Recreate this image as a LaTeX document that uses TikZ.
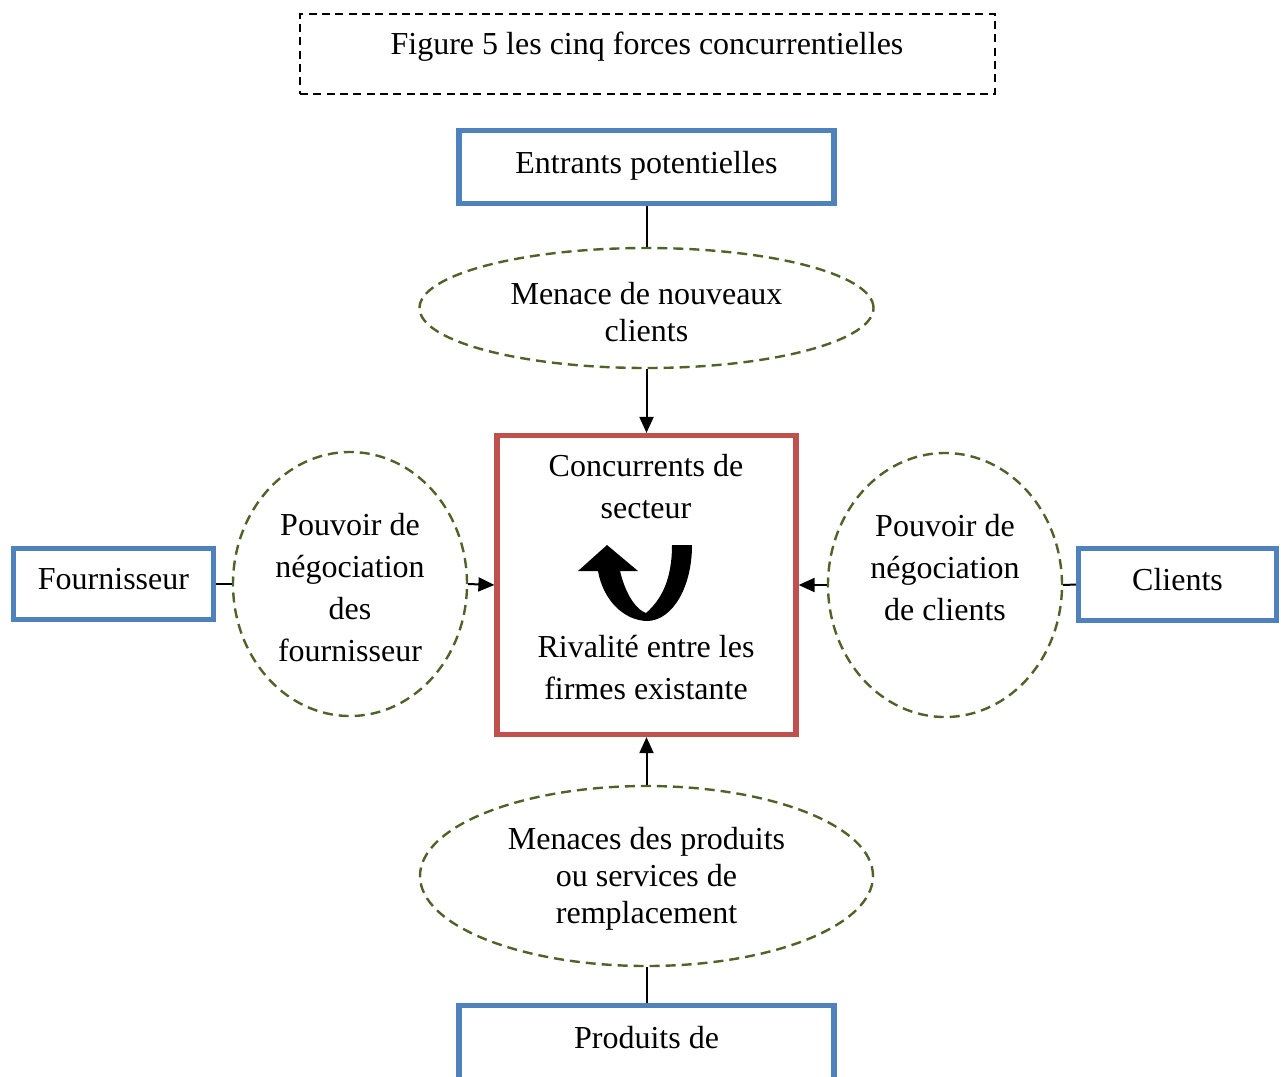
\documentclass[tikz,border=0pt]{standalone}
\usepackage{fontspec}
\setmainfont{Liberation Serif}
\usetikzlibrary{shapes.geometric,arrows.meta}
\definecolor{forceblue}{HTML}{4F81BD}
\definecolor{forcered}{HTML}{C0504D}
\definecolor{forceolive}{HTML}{4F6228}
\tikzset{
  txt/.style={font=\fontsize{24}{27.75}\selectfont, align=center, inner sep=0pt},
  txtwide/.style={font=\fontsize{24}{31.5}\selectfont, align=center, inner sep=0pt},
  titlebox/.style={draw=black, dashed, dash pattern=on 6pt off 4pt, line width=1.5pt, inner sep=0pt},
  forcebox/.style={draw=forceblue, line width=3.9pt, inner sep=0pt, fill=white},
  centrebox/.style={draw=forcered, line width=3.9pt, inner sep=0pt},
  menace/.style={ellipse, draw=forceolive, line width=1.8pt, dash pattern=on 7.5pt off 4.5pt, inner sep=0pt},
  link/.style={line width=1.5pt},
  push/.style={line width=1.5pt, -{Triangle[width=10.5pt,length=12pt]}},
}
\begin{document}
\begin{tikzpicture}[x=0.75pt,y=-0.75pt]
\useasboundingbox (0,0) rectangle (1281,1076);
\clip (0,0) rectangle (1281,1076);

% title
\node[titlebox, minimum width=521.25pt, minimum height=60pt] (titleframe) at (647.5,54) {};
\node[txt] (titletext) at (647,47) {Figure 5 les cinq forces concurrentielles};

% outer forces
\node[forcebox, minimum width=281.25pt, minimum height=54.75pt] (entrants) at (646.5,167) {};
\node[txt] (entrantstext) at (646.5,166) {Entrants potentielles};
\node[forcebox, minimum width=150pt, minimum height=53.25pt] (fourn) at (113.5,584) {};
\node[txt] (fourntext) at (113.5,579) {Fournisseur};
\node[forcebox, minimum width=148.5pt, minimum height=54pt] (clients) at (1177.5,584.5) {};
\node[txt] (clientstext) at (1177.5,580) {Clients};
\node[forcebox, minimum width=281.25pt, minimum height=60pt] (produits) at (646.5,1045.5) {};
\node[txt] (produitstext) at (646.5,1038) {Produits de};

% pressures
\node[menace, minimum width=340.5pt, minimum height=90pt] (nouveaux) at (646.5,308) {};
\node[txt] (nouveauxtext) at (646.5,312) {Menace de nouveaux\\clients};
\node[menace, minimum width=175.5pt, minimum height=198pt] (pfourn) at (350,584) {};
\node[txtwide] (pfourntext) at (350,588) {Pouvoir de\\négociation\\des\\fournisseur};
\node[menace, minimum width=175.5pt, minimum height=198pt] (pclients) at (945,585) {};
\node[txtwide] (pclientstext) at (945,568) {Pouvoir de\\négociation\\de clients};
\node[menace, minimum width=339.75pt, minimum height=135pt] (substit) at (646.5,876) {};
\node[txt] (substittext) at (646.5,879) {Menaces des produits\\ou services de\\remplacement};

% industry rivalry
\node[centrebox, minimum width=224.25pt, minimum height=224.25pt] (rivalite) at (646.5,585) {};
\node[txtwide] (secteur) at (646,487) {Concurrents de\\secteur};
\node[txtwide] (firmes) at (646,668) {Rivalité entre les\\firmes existante};

% u-turn arrow inside the centre box
\fill[black] (672,545) -- (692,545)
  .. controls (692,588) and (672,620) .. (648,621)
  .. controls (624,621) and (603,600) .. (598,571)
  -- (578,571) -- (607,545) -- (638,571) -- (620,571)
  .. controls (626,596) and (637,610) .. (646,613)
  .. controls (661,600) and (672,580) .. (672,545) -- cycle;

% connectors
\draw[link] (entrants.south) -- (nouveaux.north);
\draw[push] (nouveaux.south) -- (rivalite.north);
\draw[link] (fourn.east) -- (pfourn.west);
\draw[push] (pfourn.east) -- (rivalite.west);
\draw[link] (clients.west) -- (pclients.east);
\draw[push] (pclients.west) -- (rivalite.east);
\draw[link] (produits.north) -- (substit.south);
\draw[push] (substit.north) -- (rivalite.south);
\end{tikzpicture}
\end{document}
